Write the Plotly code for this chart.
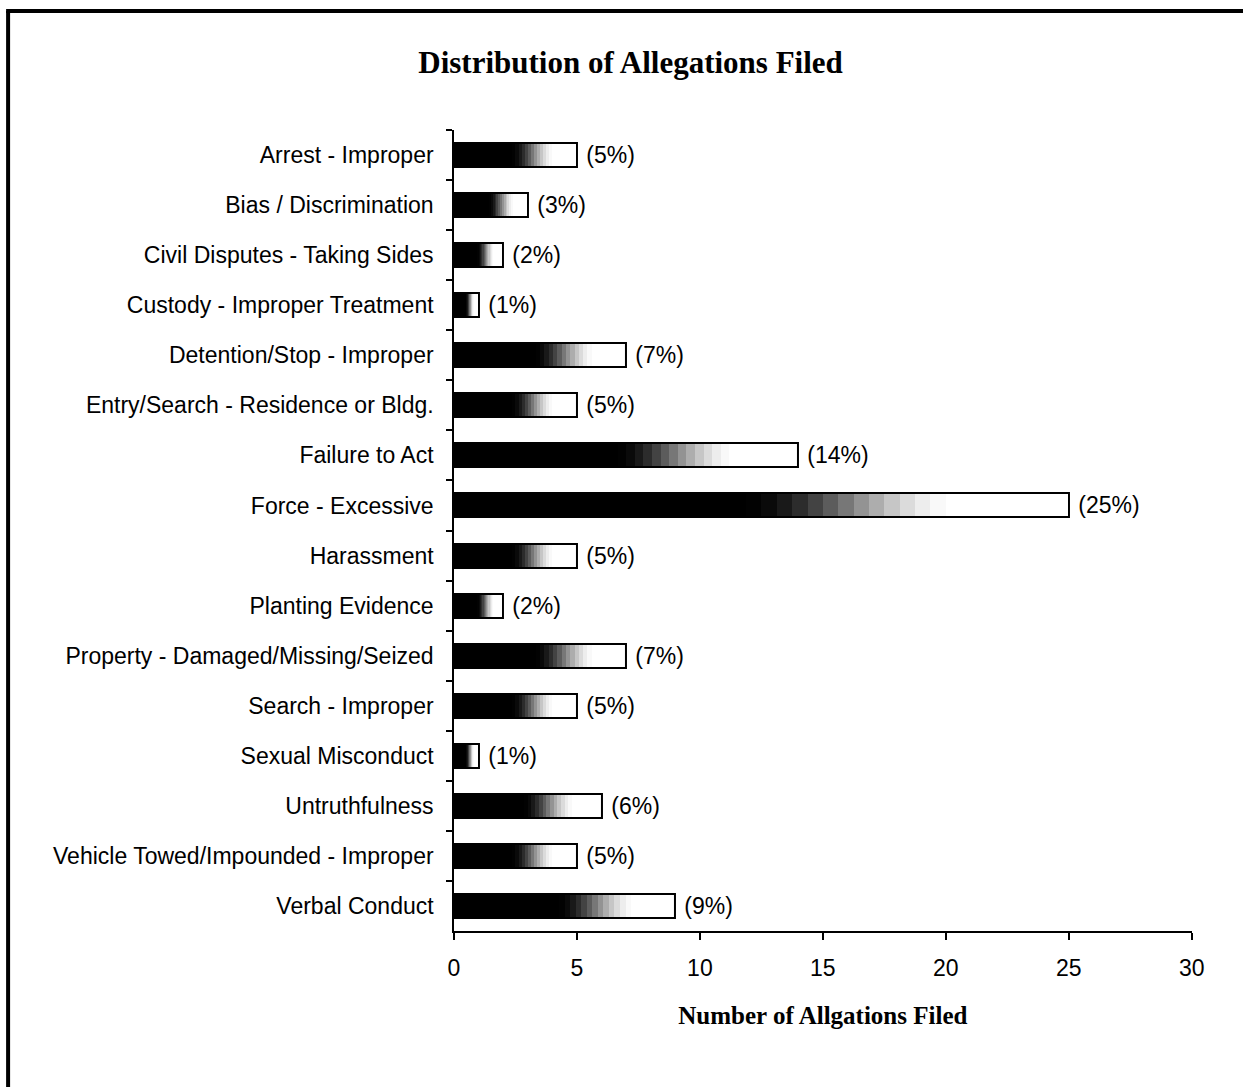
import plotly.graph_objects as go

categories = [
    "Arrest - Improper",
    "Bias / Discrimination",
    "Civil Disputes - Taking Sides",
    "Custody - Improper Treatment",
    "Detention/Stop - Improper",
    "Entry/Search - Residence or Bldg.",
    "Failure to Act",
    "Force - Excessive",
    "Harassment",
    "Planting Evidence",
    "Property - Damaged/Missing/Seized",
    "Search - Improper",
    "Sexual Misconduct",
    "Untruthfulness",
    "Vehicle Towed/Impounded - Improper",
    "Verbal Conduct",
]
counts = [5, 3, 2, 1, 7, 5, 14, 25, 5, 2, 7, 5, 1, 6, 5, 9]
pct_labels = ["(5%)", "(3%)", "(2%)", "(1%)", "(7%)", "(5%)", "(14%)", "(25%)",
              "(5%)", "(2%)", "(7%)", "(5%)", "(1%)", "(6%)", "(5%)", "(9%)"]

W, H = 1243, 1087
BAR_W = 0.48
N_LAYERS = 40

# horizontal mapping of the capture (measured): shown_x = 6.9 + 0.985 * page_x
CAP_OFF, CAP_SCALE = 6.9, 0.985


def px_x(xr):
    return ((xr - CAP_OFF) / CAP_SCALE) / W


def px_y(yr):
    return 1 - yr / H


def gray_at(t):
    # black on the left part of the bar, fading to white towards the right
    a, b = 0.47, 0.82
    if t <= a:
        g = 0.0
    elif t >= b:
        g = 1.0
    else:
        u = (t - a) / (b - a)
        g = u * u * (3 - 2 * u)
    v = int(round(255 * g))
    return f"rgb({v},{v},{v})"


fig = go.Figure()

# gradient fill built from overlaid bars of decreasing length
for j in range(N_LAYERS):
    frac_hi = 1 - j / N_LAYERS
    frac_lo = 1 - (j + 1) / N_LAYERS
    col = gray_at((frac_hi + frac_lo) / 2)
    fig.add_trace(go.Bar(
        y=categories,
        x=[c * frac_hi for c in counts],
        orientation="h",
        width=BAR_W,
        marker=dict(color=col, line=dict(width=0)),
        showlegend=False,
        hoverinfo="skip",
    ))

# outline + percentage labels
fig.add_trace(go.Bar(
    y=categories,
    x=counts,
    orientation="h",
    width=BAR_W,
    marker=dict(color="rgba(0,0,0,0)", line=dict(color="black", width=2)),
    text=pct_labels,
    texttemplate=" %{text}",
    textposition="outside",
    constraintext="none",
    cliponaxis=False,
    textfont=dict(family="Liberation Sans, Arial", size=23, color="black"),
    showlegend=False,
))

x0, x1 = 455, 1193
y_top, y_bot = 130, 931

fig.update_layout(
    width=W,
    height=H,
    margin=dict(l=0, r=0, t=0, b=0),
    paper_bgcolor="white",
    plot_bgcolor="white",
    barmode="overlay",
    bargap=0,
    font=dict(family="Liberation Sans, Arial", size=20, color="black"),
    title=dict(
        text="<b>Distribution of Allegations Filed</b>",
        x=px_x(628), xanchor="center",
        y=px_y(62), yanchor="middle",
        font=dict(family="Liberation Serif, Times New Roman", size=31, color="black"),
    ),
    xaxis=dict(
        domain=[px_x(x0), px_x(x1)],
        range=[0, 30],
        dtick=5,
        tick0=0,
        showgrid=False,
        zeroline=False,
        showline=True,
        linecolor="black",
        linewidth=2,
        ticks="outside",
        ticklen=7,
        tickwidth=1.5,
        tickcolor="black",
        ticklabelstandoff=8,
        tickfont=dict(family="Liberation Sans, Arial", size=23),
        title=dict(
            text="<b>Number of Allgations Filed</b>",
            font=dict(family="Liberation Serif, Times New Roman", size=25),
            standoff=27,
        ),
    ),
    yaxis=dict(
        domain=[px_y(y_bot), px_y(y_top)],
        type="category",
        range=[len(categories) - 0.5, -0.5],
        showgrid=False,
        zeroline=False,
        showline=True,
        linecolor="black",
        linewidth=1.5,
        ticks="outside",
        tickson="boundaries",
        ticklen=6,
        tickwidth=1.5,
        tickcolor="black",
        ticklabelstandoff=14,
        tickfont=dict(family="Liberation Sans, Arial", size=23),
    ),
    shapes=[
        dict(type="line", xref="paper", yref="paper",
             x0=px_x(9), x1=px_x(9), y0=-0.02, y1=px_y(11),
             line=dict(color="black", width=4)),
        dict(type="line", xref="paper", yref="paper",
             x0=px_x(7), x1=1.05, y0=px_y(11), y1=px_y(11),
             line=dict(color="black", width=4)),
    ],
)

# remove the default page margin so the figure fills the window exactly
fig.write_html(
    "out.html",
    config={"displayModeBar": False},
    post_script="document.body.style.margin='0';document.body.style.overflow='hidden';",
)
